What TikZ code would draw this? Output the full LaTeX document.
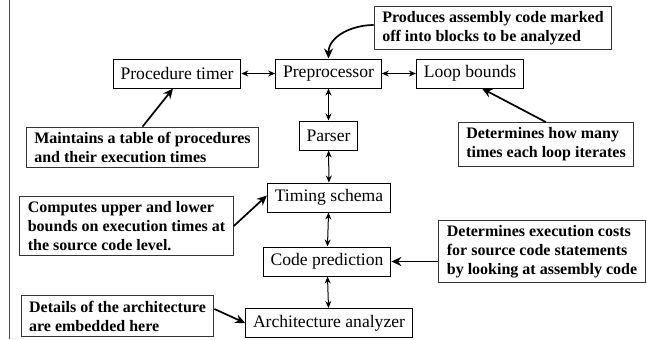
\documentclass[tikz,border=0pt]{standalone}
\usepackage{fontspec}
\setmainfont{Liberation Serif}
\usetikzlibrary{arrows.meta,positioning}

\begin{document}
\begin{tikzpicture}[x=0.5pt, y=-0.5pt,
  stage/.style={draw, shape=rectangle, line width=0.5pt, minimum height=14.5pt, inner xsep=3.7pt, inner ysep=0pt, font=\fontsize{8.8}{10}\selectfont},
  note/.style={draw = black!80, shape=rectangle, line width=0.6pt, align=left, inner xsep=4pt, inner ysep=2.5pt, font=\fontsize{8}{9.5}\selectfont\bfseries},
  link/.style={{Stealth[length=3.5pt,width=3pt]}-{Stealth[length=3.5pt,width=3pt]}, line width=0.5pt},
  point/.style={-{Stealth[length=5pt,width=4.5pt]}, line width=0.85pt}]
\useasboundingbox (0,0) rectangle (647,339);
\draw[black!70, line width=0.5pt] (9,0) -- (9,339);

% the stages
\node[stage] (pre) at (328.5,73.5) {Preprocessor};
\node[stage] (timer) at (177,73.5) {Procedure timer};
\node[stage] (loop) at (470,73.5) {Loop bounds};
\node[stage] (parser) at (328.5,135.5) {Parser};
\node[stage] (timing) at (329,197.5) {Timing schema};
\node[stage] (codepred) at (327,261.5) {Code prediction};
\node[stage] (arch) at (329,323) {Architecture analyzer};

\draw[link] (timer) -- (pre);
\draw[link] (pre) -- (loop);
\draw[link] (pre) -- (parser);
\draw[link] (parser) -- (timing);
\draw[link] (timing) -- (codepred);
\draw[link] (codepred) -- (arch);

% the notes
\node[note] (prod) at (493,28) {Produces assembly code marked\\off into blocks to be analyzed};
\node[note] (maint) at (142.5,147.5) {Maintains a table of procedures\\and their execution times};
\node[note] (howmany) at (546,144.5) {Determines how many\\times each loop iterates};
\node[note] (comp) at (126.5,226) {Computes upper and lower\\bounds on execution times at\\the source code level.};
\node[note] (costs) at (542,251.5) {Determines execution costs\\for source code statements\\by looking at assembly code};
\node[note] (details) at (117.5,316) {Details of the architecture\\are embedded here};

\draw[point] ([yshift=1.5pt]prod.west) to[out=180, in=90] (pre.north);
\draw[point] (maint.north) -- ([xshift=-2pt]timer.south);
\draw[point] (howmany.north) -- ([xshift=6pt]loop.south);
\draw[point] (comp.east) -- ([yshift=1pt]timing.west);
\draw[point] (costs.west |- codepred.east) -- (codepred.east);
\draw[point] ([yshift=3.5pt]details.east) -- (arch.west);
\end{tikzpicture}
\end{document}
